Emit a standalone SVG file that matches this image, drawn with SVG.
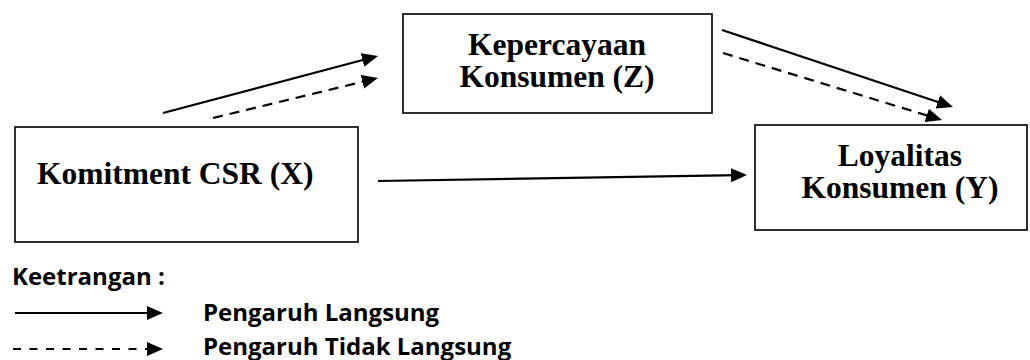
<svg xmlns="http://www.w3.org/2000/svg" width="1030" height="360" viewBox="0 0 1030 360">
<style>
.box{fill:#fff;stroke:#1a1a1a;stroke-width:1.8}
.lbl{font-family:"Liberation Serif","Times New Roman",serif;font-weight:bold;font-size:31.5px;fill:#000}
.leg{font-family:"Open Sans","Liberation Sans",sans-serif;font-weight:bold;font-size:24px;fill:#000}
.ln{fill:none;stroke:#000;stroke-width:2.2}
.dash{stroke-dasharray:10 7}
.ldash{stroke-dasharray:8 8.5}
</style>
<defs>
<marker id="ah" markerUnits="userSpaceOnUse" markerWidth="17" markerHeight="15" refX="8" refY="7" orient="auto">
<path d="M0,0 L16,7 L0,14 z" fill="#000"/>
</marker>
</defs>
<rect width="1030" height="360" fill="#fff"/>
<g id="node-x">
<rect class="box" x="15" y="127" width="343" height="115"/>
<text class="lbl" x="37" y="184">Komitment CSR (X)</text>
</g>
<g id="node-z">
<rect class="box" x="403" y="14" width="309" height="99"/>
<text class="lbl" x="557" y="55" text-anchor="middle">Kepercayaan</text>
<text class="lbl" x="557" y="87" text-anchor="middle">Konsumen (Z)</text>
</g>
<g id="node-y">
<rect class="box" x="755" y="125" width="272" height="105"/>
<text class="lbl" x="900" y="166" text-anchor="middle">Loyalitas</text>
<text class="lbl" x="900" y="198" text-anchor="middle">Konsumen (Y)</text>
</g>
<g id="connectors">
<path class="ln" d="M163,113 L370.3,58" marker-end="url(#ah)"/>
<path class="ln dash" d="M213,118 L370.2,79.9" marker-end="url(#ah)"/>
<path class="ln" d="M722,30 L945.4,104.5" marker-end="url(#ah)"/>
<path class="ln dash" d="M723,53 L934.4,117.7" marker-end="url(#ah)"/>
<path class="ln" d="M378,181 L739,175.1" marker-end="url(#ah)"/>
</g>
<g id="legend">
<text class="leg" x="12" y="285">Keetrangan :</text>
<path class="ln" d="M15,313 L155,313" marker-end="url(#ah)"/>
<path class="ln ldash" d="M13,349 L155,349" marker-end="url(#ah)"/>
<text class="leg" x="203" y="321">Pengaruh Langsung</text>
<text class="leg" x="203" y="355">Pengaruh Tidak Langsung</text>
</g>
</svg>
